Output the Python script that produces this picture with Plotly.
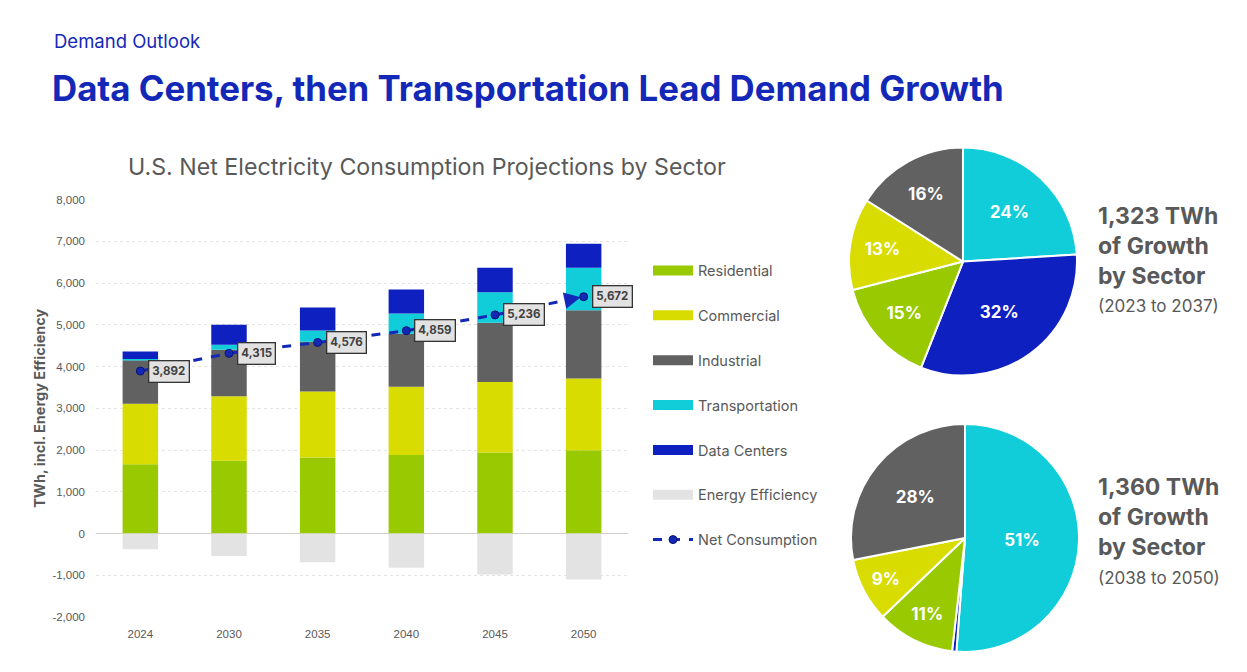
import plotly.graph_objects as go

years = ["2024", "2030", "2035", "2040", "2045", "2050"]
residential = [1660, 1740, 1820, 1880, 1940, 1995]
commercial = [1450, 1545, 1580, 1635, 1690, 1715]
industrial = [1040, 1115, 1195, 1270, 1420, 1635]
transportation = [30, 120, 270, 485, 730, 1020]
data_centers = [180, 480, 550, 575, 585, 575]
energy_efficiency = [-380, -540, -690, -820, -980, -1100]
net_consumption = [3892, 4315, 4576, 4859, 5236, 5672]

y_ticks = [-2000, -1000, 0, 1000, 2000, 3000, 4000, 5000, 6000, 7000, 8000]

pie_sectors = ["Transportation", "Data Centers", "Residential", "Commercial", "Industrial"]
pie_2023_2037 = [24, 32, 15, 13, 16]
pie_2038_2050 = [51, 0.6, 11, 9, 28]
growth_twh = ["1,323", "1,360"]
growth_periods = ["(2023 to 2037)", "(2038 to 2050)"]

colors = {
    "Residential": "#99C900",
    "Commercial": "#D9DC00",
    "Industrial": "#616161",
    "Transportation": "#10CDD9",
    "Data Centers": "#0E20C0",
    "Energy Efficiency": "#E3E3E3",
}
BLUE = "#1428B8"
GREY_TEXT = "#595959"
FONT = "Inter"
W, H = 1247, 672


# screenshot pixel -> paper coords (page offset measured from earlier renders)
def px(x):
    return (x - 8) / W


def py(y):
    return 1 - (y - 13.7) / 0.981 / H


fig = go.Figure()

bar_series = [
    ("Residential", residential),
    ("Commercial", commercial),
    ("Industrial", industrial),
    ("Transportation", transportation),
    ("Data Centers", data_centers),
    ("Energy Efficiency", energy_efficiency),
]
for i, (name, vals) in enumerate(bar_series):
    fig.add_trace(go.Bar(x=years, y=vals, name=name, marker=dict(color=colors[name], line=dict(width=0)),
                         showlegend=False, hoverinfo="skip"))
    # wide legend swatch like the original
    fig.add_trace(go.Scatter(x=[None], y=[None], mode="lines", name=name,
                             line=dict(color=colors[name], width=12),
                             legendgroup=name, legendrank=i + 1, hoverinfo="skip"))

fig.add_trace(go.Scatter(x=years, y=net_consumption, name="Net Consumption", mode="lines+markers",
                         line=dict(color=BLUE, width=3, dash="dash"),
                         marker=dict(symbol="circle", size=8, color=BLUE, line=dict(color="#0A1470", width=1)),
                         legendgroup="Net Consumption", legendrank=7, hoverinfo="skip"))

# arrowhead at the end of the net consumption line
last = len(years) - 1
fig.add_annotation(x=last, y=net_consumption[last], ax=last - 0.12,
                   ay=net_consumption[last] - 0.12 * (net_consumption[last] - net_consumption[last - 1]),
                   xref="x", yref="y", axref="x", ayref="y", text="", showarrow=True,
                   arrowhead=2, arrowsize=1.1, arrowwidth=3, arrowcolor=BLUE, standoff=3)

for i, v in enumerate(net_consumption):
    fig.add_annotation(x=i, y=v, text=f"<b>{v:,}</b>", showarrow=False, xanchor="left", xshift=8,
                       bgcolor="#E2E2E2", bordercolor="#333333", borderwidth=1.3, borderpad=3,
                       font=dict(family=FONT, size=11.5, color="#404040"))

R = 114
for vals, (cx, cy) in [(pie_2023_2037, (963, 261)), (pie_2038_2050, (965, 537))]:
    fig.add_trace(go.Pie(labels=pie_sectors, values=vals, sort=False, direction="clockwise", rotation=0,
                         marker=dict(colors=[colors[s] for s in pie_sectors], line=dict(color="white", width=2)),
                         text=[f"{v:.0f}%" if v >= 1 else "" for v in vals], textinfo="text",
                         textposition="inside", insidetextorientation="horizontal",
                         textfont=dict(family=FONT, size=17, color="white", weight="bold"),
                         domain=dict(x=[px(cx - R), px(cx + R)], y=[py(cy + R), py(cy - R)]),
                         showlegend=False, hoverinfo="skip"))

for twh, period, (ytop, yper) in zip(growth_twh, growth_periods, [(199, 293), (470, 565)]):
    fig.add_annotation(xref="paper", yref="paper", x=px(1096), y=py(ytop), xanchor="left", yanchor="top",
                       align="left", showarrow=False,
                       text=f"<b>{twh} TWh<br>of Growth<br>by Sector</b>",
                       font=dict(family=FONT, size=23, color=GREY_TEXT))
    fig.add_annotation(xref="paper", yref="paper", x=px(1096), y=py(yper), xanchor="left", yanchor="top",
                       showarrow=False, text=period, font=dict(family=FONT, size=17, color=GREY_TEXT))

fig.add_annotation(xref="paper", yref="paper", x=px(52), y=py(41), xanchor="left", yanchor="middle",
                   showarrow=False, text="Demand Outlook", font=dict(family=FONT, size=18.5, color=BLUE))
fig.add_annotation(xref="paper", yref="paper", x=px(50), y=py(88), xanchor="left", yanchor="middle",
                   showarrow=False, text="<b>Data Centers, then Transportation Lead Demand Growth</b>",
                   font=dict(family=FONT, size=34.8, color=BLUE))
fig.add_annotation(xref="paper", yref="paper", x=px(427), y=py(167), xanchor="center", yanchor="middle",
                   showarrow=False, text="U.S. Net Electricity Consumption Projections by Sector",
                   font=dict(family=FONT, size=23.2, color=GREY_TEXT))

fig.update_layout(
    width=W, height=H,
    margin=dict(l=0, r=0, t=0, b=0),
    paper_bgcolor="white", plot_bgcolor="white",
    barmode="relative", bargap=0.6,
    font=dict(family=FONT, color=GREY_TEXT),
    xaxis=dict(domain=[px(96), px(628)], type="category", range=[-0.5, len(years) - 0.5],
               showgrid=False, showline=False, ticks="", ticklabelstandoff=8,
               tickfont=dict(family="Liberation Sans", size=11.5, color="#595959"), anchor="y"),
    yaxis=dict(domain=[py(616), py(199)], range=[-2000, 8000], tickvals=y_ticks,
               ticktext=[f"{v:,}" for v in y_ticks],
               gridcolor="#E4E4E4", griddash="dot", zeroline=True, zerolinecolor="#D0D0D0", zerolinewidth=1,
               tickfont=dict(family="Liberation Sans", size=11.5, color="#595959"), ticklabelstandoff=10,
               title=dict(text="<b>TWh, incl. Energy Efficiency</b>", font=dict(size=14.5, color="#595959"),
                          standoff=3)),
    legend=dict(x=px(648), y=py(254), xanchor="left", yanchor="top", traceorder="grouped",
                tracegroupgap=23, itemwidth=40, font=dict(family=FONT, size=14.5, color=GREY_TEXT),
                bgcolor="rgba(0,0,0,0)"),
    showlegend=True,
)

fig.write_html("out.html")
